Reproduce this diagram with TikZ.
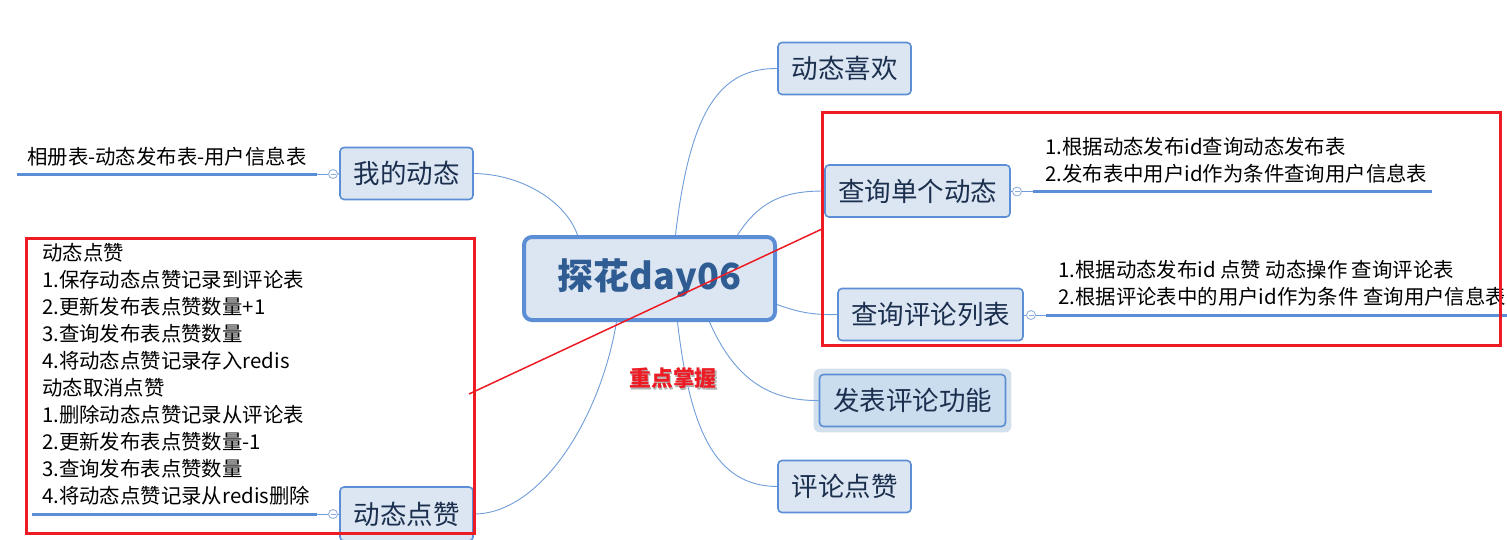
\documentclass[tikz,border=0pt]{standalone}
\usepackage{fontspec}
\setmainfont{Noto Sans CJK SC}
\usetikzlibrary{backgrounds}
\definecolor{bbord}{HTML}{5B8ED4}
\definecolor{bfill}{HTML}{DCE6F2}
\definecolor{bfill2}{HTML}{C9DDEE}
\definecolor{glowc}{HTML}{D3E1EE}
\definecolor{btext}{HTML}{1B2F4E}
\definecolor{ctext}{HTML}{2F5C93}
\definecolor{conn}{HTML}{6F9DD9}
\definecolor{redc}{HTML}{ED1C24}
\definecolor{circc}{HTML}{8AACDC}
\begin{document}
\begin{tikzpicture}[x=1pt,y=-1pt,
  branch/.style={draw=bbord, line width=1.6pt, fill=bfill, rounded corners=4pt,
    text=btext, font=\fontsize{26.5}{30}\selectfont, inner sep=0pt,
    minimum width=133pt, minimum height=52pt},
  central/.style={draw=bbord, line width=4pt, fill=bfill, rounded corners=8pt,
    text=ctext, font=\fontsize{36}{40}\selectfont\bfseries, inner sep=0pt,
    minimum width=251pt, minimum height=83pt},
  txt/.style={font=\fontsize{20.4}{24}\selectfont, text=black, inner sep=0pt},
  conline/.style={draw=conn, line width=0.9pt},
  uline/.style={draw=bbord, line width=3pt},
  thinl/.style={draw=conn, line width=0.9pt},
  circ/.style={circle, draw=circc, fill=white, line width=0.8pt, minimum size=9pt, inner sep=0pt,
    path picture={\draw[circc, line width=0.8pt] ([xshift=-2.5pt]path picture bounding box.center) -- ([xshift=2.5pt]path picture bounding box.center);}},
  redbox/.style={draw=redc, line width=3pt},
  redline/.style={draw=redc, line width=1.5pt}
]
\path[use as bounding box] (0,0) rectangle (1507,539);

% central node
\node[central] (c) at (649.5,278.5) {探花day06};

% branch nodes
\node[branch] (xh) at (844.5,68.5) {动态喜欢};
\node[branch, minimum width=185pt] (q1) at (917.5,191) {查询单个动态};
\node[branch, minimum width=185pt] (q2) at (930.5,314.5) {查询评论列表};
\node[branch, minimum width=186pt, fill=bfill2] (fb) at (912.5,400.5) {发表评论功能};
\node[branch] (pl) at (844.5,486.5) {评论点赞};
\node[branch] (wd) at (406.5,173.5) {我的动态};
\node[branch, minimum height=54pt] (dz) at (406.5,514) {动态点赞};

\begin{scope}[on background layer]
  \fill[glowc, rounded corners=6pt] ([shift={(-5,-5)}]fb.north west) rectangle ([shift={(5,5)}]fb.south east);
\end{scope}

% connectors from central node
\draw[conline] ([xshift=-72pt]c.north) .. controls (565,200) and (520,174) .. (wd.east);
\draw[conline] ([xshift=-33pt]c.south) .. controls (600,420) and (540,514) .. (dz.east);
\draw[conline] ([xshift=26pt]c.north) .. controls (690,110) and (720,68) .. (xh.west);
\draw[conline] ([xshift=88pt]c.north) .. controls (760,200) and (785,191) .. (q1.west);
\draw[conline] ([yshift=-26pt]c.east) .. controls (800,313) and (815,315) .. (q2.west);
\draw[conline] ([xshift=60pt]c.south) .. controls (735,380) and (770,401) .. (fb.west);
\draw[conline] ([xshift=28pt]c.south) .. controls (690,430) and (715,486) .. (pl.west);

% collapse circles and underlines
\node[circ] (k1) at (333,174) {};
\node[circ] (k2) at (333,514) {};
\node[circ] (k3) at (1017,191.5) {};
\node[circ] (k4) at (1031,315) {};

\coordinate (u1a) at (17,174);  \coordinate (u1b) at (317,174);
\coordinate (u2a) at (32,514);  \coordinate (u2b) at (317,514);
\coordinate (u3a) at (1033,191.5); \coordinate (u3b) at (1432,191.5);
\coordinate (u4a) at (1046,315); \coordinate (u4b) at (1507,315);

\draw[thinl] (wd.west) -- (k1.east);
\draw[thinl] (k1.west) -- (u1b);
\draw[uline] (u1a) -- (u1b);
\draw[thinl] (dz.west |- k2) -- (k2.east);
\draw[thinl] (k2.west) -- (u2b);
\draw[uline] (u2a) -- (u2b);
\draw[thinl] (q1.east |- k3) -- (k3.west);
\draw[thinl] (k3.east) -- (u3a);
\draw[uline] (u3a) -- (u3b);
\draw[thinl] (q2.east |- k4) -- (k4.west);
\draw[thinl] (k4.east) -- (u4a);
\draw[uline] (u4a) -- (u4b);

% texts
\node[txt, anchor=base west] (t0) at (27,164.5) {相册表-动态发布表-用户信息表};
\foreach \s [count=\i] in {动态点赞,1.保存动态点赞记录到评论表,2.更新发布表点赞数量+1,3.查询发布表点赞数量,4.将动态点赞记录存入redis,动态取消点赞,1.删除动态点赞记录从评论表,2.更新发布表点赞数量-1,3.查询发布表点赞数量,4.将动态点赞记录从redis删除}
  \node[txt, anchor=base west] (L\i) at (42,{260.5+27*(\i-1)}) {\s};
\node[txt, anchor=base west] (r1) at (1045,154.5) {1.根据动态发布id查询动态发布表};
\node[txt, anchor=base west] (r2) at (1045,181) {2.发布表中用户id作为条件查询用户信息表};
\node[txt, anchor=base west] (r3) at (1058,277.5) {1.根据动态发布id 点赞 动态操作 查询评论表};
\node[txt, anchor=base west] (r4) at (1058,304.5) {2.根据评论表中的用户id作为条件 查询用户信息表};

% 重点掌握 label with shadow
\node[font=\fontsize{21.8}{24}\selectfont\bfseries, text=black!30, inner sep=0pt] (zs) at (674.5,380.5) {重点掌握};
\node[font=\fontsize{21.8}{24}\selectfont\bfseries, text=redc, inner sep=0pt] (zd) at (673,378.5) {重点掌握};

% red annotations
\draw[redbox] (26,238) rectangle (474,533);
\draw[redbox] (822,112) rectangle (1500,345);
\coordinate (ra) at (469,394);
\coordinate (rb) at (822,229);
\draw[redline] (ra) -- (rb);
\end{tikzpicture}
\end{document}
